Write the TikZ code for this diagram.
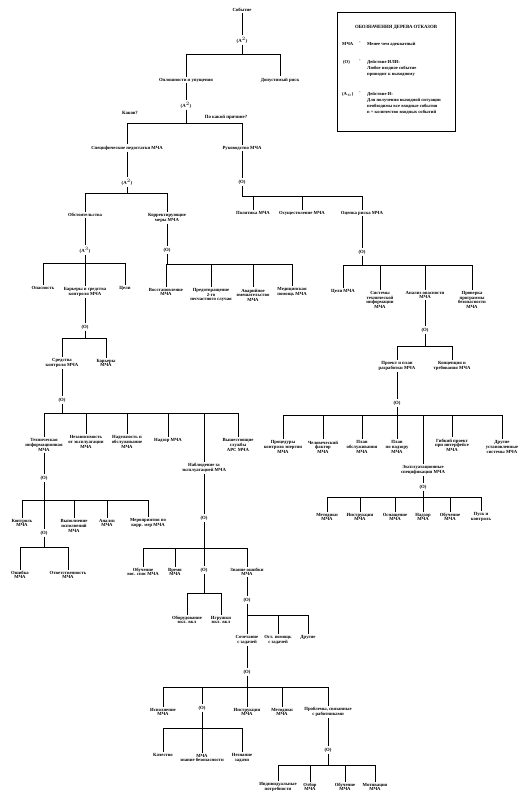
\documentclass[tikz,border=0pt]{standalone}
\usepackage{fontspec}
\setmainfont{Liberation Serif}

\begin{document}
\begin{tikzpicture}[x=1pt, y=-1pt,
    every node/.style = {align=center},
    evt/.style    = {font=\fontsize{4.7}{4.6}\selectfont\bfseries, inner sep=1.2pt},
    gate/.style   = {font=\fontsize{4.8}{5}\selectfont\bfseries, inner sep=1.2pt},
    askl/.style   = {font=\fontsize{4.8}{5}\selectfont\bfseries, inner sep=0pt},
    legtxt/.style = {font=\fontsize{4.6}{6.2}\selectfont\bfseries, align=left, inner sep=0pt, anchor=north west},
    conn/.style   = {line width=0.7pt},
]
\useasboundingbox (0,0) rectangle (527,804);

%% Legend
\node[draw, line width=0.6pt, minimum width=118pt, minimum height=119pt, anchor=north west] (legend) at (337,12) {};
\node[askl] (legtitle) at (396,27) {ОБОЗНАЧЕНИЯ ДЕРЕВА ОТКАЗОВ};
\node[legtxt] (legk1) at (342,42) {МЧА};
\node[legtxt] (legd1) at (359,42) {-};
\node[legtxt] (legt1) at (367,42) {Менее чем адекватный};
\node[legtxt] (legk2) at (343,60) {(O)};
\node[legtxt] (legd2) at (359,60) {-};
\node[legtxt] (legt2) at (367,60) {Действие ИЛИ:\\Любое входное событие\\приводит к выходному};
\node[legtxt] (legk3) at (342,92) {(A$_n$)};
\node[legtxt] (legd3) at (359,92) {-};
\node[legtxt] (legt3) at (367,92) {Действие И:\\Для получения выходной ситуации\\необходимы все входные события\\n = количество входных событий};

%% Top
\node[evt]  (ev)  at (242,10)  {Событие};
\node[gate] (g1)  at (242,40)  {(A$^2$)};
\coordinate (b1) at (242,54);
\node[evt]  (oo)  at (186,80)  {Оплошности и упущения};
\node[evt]  (dr)  at (280,80)  {Допустимый риск};
\node[gate] (g2)  at (186,105) {(A$^2$)};
\coordinate (b2) at (186,123);
\node[askl] (kak) at (130,113) {Каков?};
\node[askl] (pkp) at (226,117) {По какой причине?};
\node[evt]  (sn)  at (127,148) {Специфические недостатки МЧА};
\node[evt]  (rk)  at (242,148) {Руководство МЧА};

%% Specific factors
\node[gate] (g3)  at (127,182) {(A$^2$)};
\coordinate (b3) at (127,193);
\node[evt]  (ob)  at (85,215)  {Обстоятельства};
\node[evt]  (km)  at (167,218) {Корректирующие\\меры МЧА};
\node[gate] (g5)  at (85,250)  {(A$^3$)};
\coordinate (b5) at (85,263);
\node[evt]  (op)  at (43,288)  {Опасность};
\node[evt]  (bs)  at (85,292)  {Барьеры и средства\\контроля МЧА};
\node[evt]  (cl)  at (125,288) {Цели};
\node[gate] (g6)  at (167,250) {(O)};
\coordinate (b6) at (167,264);
\node[evt]  (vs)  at (166,292) {Восстановление\\МЧА};
\node[evt]  (pr)  at (211,295) {Предотвращение\\2-го\\несчастного случая};
\node[evt]  (av)  at (253,295) {Аварийное\\вмешательство\\МЧА};
\node[evt]  (mp)  at (292,292) {Медицинская\\помощь МЧА};

%% Management
\node[gate] (g4)  at (242,182) {(O)};
\coordinate (b4) at (242,196);
\node[evt]  (pol) at (253,213) {Политика МЧА};
\node[evt]  (osu) at (302,213) {Осуществление МЧА};
\node[evt]  (otr) at (362,213) {Оценка риска МЧА};
\node[gate] (g7)  at (362,252) {(O)};
\coordinate (b7) at (362,265);
\node[evt]  (cm)  at (343,291) {Цели МЧА};
\node[evt]  (st)  at (380,300) {Системы\\технической\\информации\\МЧА};
\node[evt]  (ao)  at (425,295) {Анализ опасности\\МЧА};
\node[evt]  (pp)  at (472,300) {Проверка\\программы\\безопасности\\МЧА};

%% Barriers and controls
\node[gate] (g8)  at (85,327)  {(O)};
\coordinate (b8) at (85,338);
\node[evt]  (sk)  at (62,363)  {Средства\\контроля МЧА};
\node[evt]  (bm)  at (106,363) {Барьеры\\МЧА};
\node[gate] (g10) at (62,400)  {(O)};
\coordinate (b10) at (62,413);
\node[evt]  (ti)  at (44,445)  {Техническая\\информационная\\МЧА};
\node[evt]  (nz)  at (86,442)  {Независимость\\от эксплуатации\\МЧА};
\node[evt]  (nd)  at (127,442) {Надежность и\\обслуживание\\МЧА};
\node[evt]  (ndz) at (168,440) {Надзор МЧА};
\node[evt]  (nab) at (204,468) {Наблюдение за\\эксплуатацией МЧА};
\node[evt]  (vsh) at (238,445) {Вышестоящие\\службы\\АРС МЧА};

%% Technical information
\node[gate] (g11) at (44,478)  {(O)};
\coordinate (b11) at (44,500);
\node[evt]  (kn)  at (22,523)  {Контроль\\МЧА};
\node[gate] (g12) at (44,533)  {(O)};
\coordinate (b12) at (44,547);
\node[evt]  (osh) at (20,575)  {Ошибка\\МЧА};
\node[evt]  (otv) at (68,575)  {Ответственность\\МЧА};
\node[evt]  (vyp) at (74,526)  {Выполнение\\исполнений\\МЧА};
\node[evt]  (an)  at (107,523) {Анализ\\МЧА};
\node[evt]  (mer) at (148,523) {Мероприятия по\\корр. мер МЧА};

%% Supervision
\node[gate] (g13) at (204,518) {(O)};
\coordinate (b13) at (204,548);
\node[evt]  (obu) at (143,572) {Обучение\\вос. спос МЧА};
\node[evt]  (vr)  at (175,572) {Время\\МЧА};
\node[gate] (g14) at (204,570) {(O)};
\coordinate (b14) at (204,593);
\node[evt]  (obo) at (187,620) {Оборудование\\вкл. вкл};
\node[evt]  (igr) at (221,620) {Игрушки\\вкл. вкл};
\node[evt]  (zn)  at (247,572) {Знание ошибки\\МЧА};
\node[gate] (g15) at (247,600) {(O)};
\coordinate (b15) at (247,615);
\node[evt]  (soc) at (247,640) {Сочетание\\с задачей};
\node[evt]  (ost) at (278,640) {Ост. помощь\\с задачей};
\node[evt]  (dru2) at (308,637) {Другие};
\node[gate] (g16) at (247,672) {(O)};
\coordinate (b16) at (247,687);
\node[evt]  (isp) at (163,712) {Исполнение\\МЧА};
\node[gate] (g17) at (202,708) {(O)};
\coordinate (b17) at (202,728);
\node[evt]  (ins) at (247,712) {Инструкции\\МЧА};
\node[evt]  (met) at (282,712) {Методики\\МЧА};
\node[evt]  (prb) at (328,712) {Проблемы, связанные\\с работниками};
\node[evt]  (kach) at (163,755) {Качество};
\node[evt]  (mcb) at (202,758) {МЧА\\знание безопасности};
\node[evt]  (nez) at (242,758) {Незнание\\задачи};
\node[gate] (g18) at (328,750) {(O)};
\coordinate (b18) at (328,765);
\node[evt]  (ipr) at (278,787) {Индивидуальные\\потребности};
\node[evt]  (otb) at (310,787) {Отбор\\МЧА};
\node[evt]  (ob2) at (345,787) {Обучение\\МЧА};
\node[evt]  (mot) at (375,787) {Мотивация\\МЧА};

%% Hazard analysis
\node[gate] (g9)  at (425,330) {(O)};
\coordinate (b9) at (425,346);
\node[evt]  (pl)  at (397,366) {Проект и план\\разработки МЧА};
\node[evt]  (kt)  at (452,366) {Концепция и\\требования МЧА};
\node[gate] (g19) at (397,403) {(O)};
\coordinate (b19) at (397,415);
\node[evt]  (pu)  at (283,447) {Процедуры\\контроля энергии\\МЧА};
\node[evt]  (chf) at (323,447) {Человеческий\\фактор\\МЧА};
\node[evt]  (po)  at (362,447) {План\\обслуживания\\МЧА};
\node[evt]  (pn)  at (397,447) {План\\по надзору\\МЧА};
\node[evt]  (es)  at (423,470) {Эксплуатационные\\спецификации МЧА};
\node[evt]  (gp)  at (452,445) {Гибкий проект\\при интерфейсе\\МЧА};
\node[evt]  (drs) at (502,447) {Другие\\установленные\\системы МЧА};
\node[gate] (g20) at (423,487) {(O)};
\coordinate (b20) at (423,497);
\node[evt]  (met2) at (327,517) {Методики\\МЧА};
\node[evt]  (ins2) at (360,517) {Инструкции\\МЧА};
\node[evt]  (osn)  at (395,517) {Оснащение\\МЧА};
\node[evt]  (nad2) at (423,517) {Надзор\\МЧА};
\node[evt]  (obu3) at (450,517) {Обучение\\МЧА};
\node[evt]  (pusk) at (481,517) {Пуск и\\контроль};

%% Connectors
\draw[conn] (ev) -- (g1) -- (b1);
\draw[conn] (b1) -| (oo.north) (b1) -| (dr.north);
\draw[conn] (oo) -- (g2) -- (b2);
\draw[conn] (b2) -| (sn.north) (b2) -| (rk.north);

\draw[conn] (sn) -- (g3) -- (b3);
\draw[conn] (b3) -| (ob.north) (b3) -| (km.north);
\draw[conn] (ob) -- (g5) -- (b5);
\draw[conn] (b5) -| (op.north) (b5) -| (bs.north) (b5) -| (cl.north);
\draw[conn] (km) -- (g6) -- (b6);
\draw[conn] (b6) -| (vs.north) (b6) -| (pr.north) (b6) -| (av.north) (b6) -| (mp.north);

\draw[conn] (rk) -- (g4) -- (b4);
\draw[conn] (b4) -| (pol.north) (b4) -| (osu.north) (b4) -| (otr.north);
\draw[conn] (otr) -- (g7) -- (b7);
\draw[conn] (b7) -| (cm.north) (b7) -| (st.north) (b7) -| (ao.north) (b7) -| (pp.north);

\draw[conn] (bs) -- (g8) -- (b8);
\draw[conn] (b8) -| (sk.north) (b8) -| (bm.north);
\draw[conn] (sk) -- (g10) -- (b10);
\draw[conn] (b10) -| (ti.north) (b10) -| (nz.north) (b10) -| (nd.north)
            (b10) -| (ndz.north) (b10) -| (nab.north) (b10) -| (vsh.north);

\draw[conn] (ti) -- (g11) -- (b11);
\draw[conn] (b11) -| (kn.north) (b11) -| (g12.north) (b11) -| (vyp.north)
            (b11) -| (an.north) (b11) -| (mer.north);
\draw[conn] (g12) -- (b12);
\draw[conn] (b12) -| (osh.north) (b12) -| (otv.north);

\draw[conn] (nab) -- (g13) -- (b13);
\draw[conn] (b13) -| (obu.north) (b13) -| (vr.north) (b13) -| (g14.north) (b13) -| (zn.north);
\draw[conn] (g14) -- (b14);
\draw[conn] (b14) -| (obo.north) (b14) -| (igr.north);
\draw[conn] (zn) -- (g15) -- (b15);
\draw[conn] (b15) -| (soc.north) (b15) -| (ost.north) (b15) -| (dru2.north);
\draw[conn] (soc) -- (g16) -- (b16);
\draw[conn] (b16) -| (isp.north) (b16) -| (g17.north) (b16) -| (ins.north)
            (b16) -| (met.north) (b16) -| (prb.north);
\draw[conn] (g17) -- (b17);
\draw[conn] (b17) -| (kach.north) (b17) -| (mcb.north) (b17) -| (nez.north);
\draw[conn] (prb) -- (g18) -- (b18);
\draw[conn] (b18) -| (ipr.north) (b18) -| (otb.north) (b18) -| (ob2.north) (b18) -| (mot.north);

\draw[conn] (ao) -- (g9) -- (b9);
\draw[conn] (b9) -| (pl.north) (b9) -| (kt.north);
\draw[conn] (pl) -- (g19) -- (b19);
\draw[conn] (b19) -| (pu.north) (b19) -| (chf.north) (b19) -| (po.north) (b19) -| (pn.north)
            (b19) -| (es.north) (b19) -| (gp.north) (b19) -| (drs.north);
\draw[conn] (es) -- (g20) -- (b20);
\draw[conn] (b20) -| (met2.north) (b20) -| (ins2.north) (b20) -| (osn.north)
            (b20) -| (nad2.north) (b20) -| (obu3.north) (b20) -| (pusk.north);

\end{tikzpicture}
\end{document}
